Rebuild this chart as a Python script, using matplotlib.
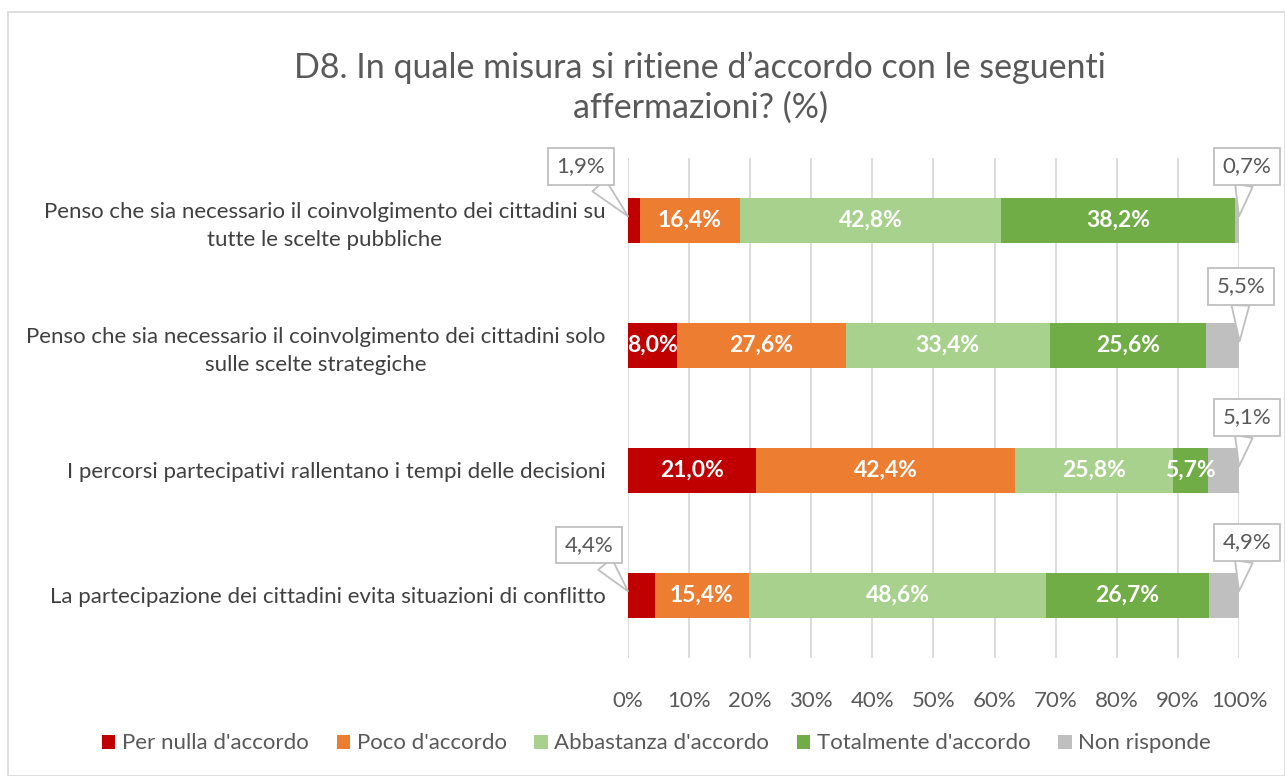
import matplotlib
matplotlib.use("Agg")
from matplotlib import pyplot as plt
from matplotlib.patches import Rectangle
import numpy as np

plt.rcParams['font.family'] = ['Lato', 'DejaVu Sans']

categorie = ["Penso che sia necessario il coinvolgimento dei cittadini su\ntutte le scelte pubbliche",
             "Penso che sia necessario il coinvolgimento dei cittadini solo\nsulle scelte strategiche",
             "I percorsi partecipativi rallentano i tempi delle decisioni",
             "La partecipazione dei cittadini evita situazioni di conflitto"]
serie = ["Per nulla d'accordo", "Poco d'accordo", "Abbastanza d'accordo",
         "Totalmente d'accordo", "Non risponde"]
per_nulla = [1.9, 8.0, 21.0, 4.4]
poco = [16.4, 27.6, 42.4, 15.4]
abbastanza = [42.8, 33.4, 25.8, 48.6]
totalmente = [38.2, 25.6, 5.7, 26.7]
non_risponde = [0.7, 5.5, 5.1, 4.9]
colori = ["#C00000", "#ED7D31", "#A9D18E", "#70AD47", "#BFBFBF"]
titolo = "D8. In quale misura si ritiene d’accordo con le seguenti\naffermazioni? (%)"

# etichette esterne (riga, serie) -> posizione del riquadro
fuori = {(0, 0): (-7.7, -0.43), (0, 4): (101.3, -0.43), (1, 4): (100.3, -0.47),
         (2, 4): (101.3, -0.42), (3, 0): (-6.4, -0.40), (3, 4): (101.3, -0.42)}

valori = [per_nulla, poco, abbastanza, totalmente, non_risponde]

fig = plt.figure(figsize=(12.85, 7.76), dpi=100)
ax = fig.add_axes([0.4887, 0.1527, 0.4755, 0.6443])
y = np.arange(len(categorie))
sinistra = np.zeros(len(categorie))
for s, (nome, v, c) in enumerate(zip(serie, valori, colori)):
    v = np.array(v)
    ax.barh(y, v, left=sinistra, height=0.36, color=c, label=nome, zorder=3)
    for i in range(len(categorie)):
        testo = f"{v[i]:.1f}%".replace(".", ",")
        xc = sinistra[i] + v[i] / 2
        if (i, s) in fuori:
            tx, dy = fuori[(i, s)]
            punta = sinistra[i] if s == 0 else sinistra[i] + v[i]
            ax.annotate(testo, xy=(punta, i - 0.03), xytext=(tx, i + dy),
                        ha="center", va="center", fontsize=16, color="#595959",
                        annotation_clip=False, zorder=5,
                        bbox=dict(boxstyle="square,pad=0.38", fc="white", ec="#BFBFBF", lw=1.3),
                        arrowprops=dict(arrowstyle="wedge,tail_width=0.8", fc="white",
                                        ec="#BFBFBF", lw=1.3, shrinkA=0, shrinkB=0))
        else:
            ax.text(xc, i, testo, ha="center", va="center", fontsize=16.5,
                    color="white", fontweight="bold", zorder=4)
    sinistra += v

ax.set_xlim(0, 100)
ax.set_ylim(3.5, -0.5)
ax.set_yticks(y)
ax.set_yticklabels(categorie, fontsize=16, color="#404040", multialignment="center",
                   linespacing=1.5)
ax.set_xticks(np.arange(0, 101, 10))
ax.set_xticklabels([f"{t}%" for t in range(0, 101, 10)], fontsize=16, color="#595959")
ax.tick_params(axis="both", length=0)
ax.tick_params(axis="x", pad=24)
ax.tick_params(axis="y", pad=16)
ax.grid(axis="x", color="#D9D9D9", lw=1.3, zorder=0)
for sp in ax.spines.values():
    sp.set_visible(False)

fig.text(0.545, 0.887, titolo, ha="center", va="center", fontsize=24.5, color="#595959",
         linespacing=1.3)
fig.legend(loc="center", bbox_to_anchor=(0.511, 0.042), ncol=5, frameon=False,
           fontsize=16, handlelength=0.6, handleheight=0.6, handletextpad=0.3,
           columnspacing=1.25, labelcolor="#595959")
fig.patches.append(Rectangle((0.006, 0.0), 0.994, 0.985, transform=fig.transFigure,
                             fill=False, ec="#D9D9D9", lw=1.2))
fig.savefig("out.png", dpi=100)
